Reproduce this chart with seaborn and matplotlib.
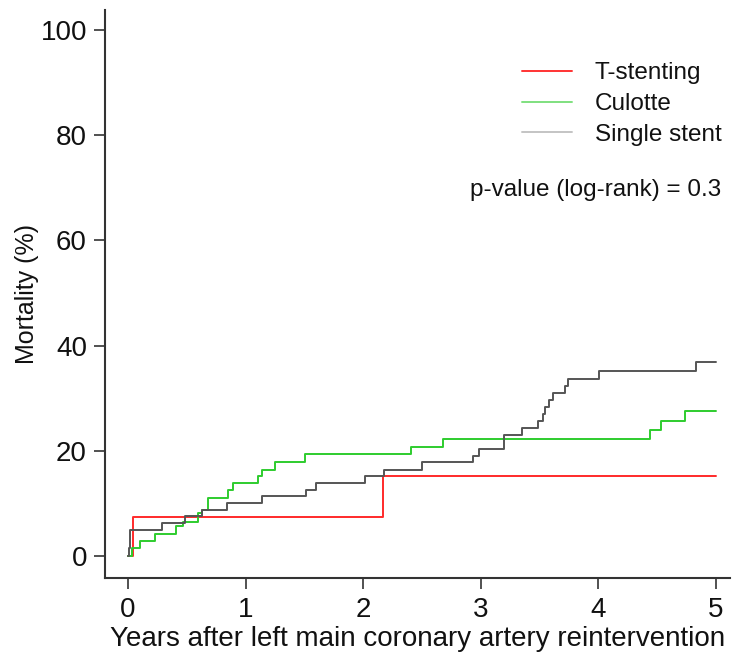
import numpy as np
import pandas as pd
import matplotlib
matplotlib.use("Agg")
import matplotlib.pyplot as plt
import seaborn as sns

# ---- data ----
groups = ["T-stenting", "Culotte", "Single stent"]

t_tsten = [0.0, 0.045, 2.17, 5.0]
m_tsten = [0.0, 7.4, 15.1, 15.1]

t_culotte = [0.0, 0.031, 0.102, 0.23, 0.408, 0.47, 0.598, 0.627, 0.683, 0.853,
             0.896, 1.108, 1.137, 1.25, 1.505, 2.41, 2.68, 4.44, 4.53, 4.74, 5.0]
m_culotte = [0.0, 1.5, 2.9, 4.2, 5.6, 6.5, 8.2, 8.8, 11.0, 12.6,
             13.8, 15.1, 16.4, 17.8, 19.4, 20.8, 22.3, 24.0, 25.6, 27.5, 27.5]

t_single = [0.0, 0.005, 0.015, 0.286, 0.485, 0.627, 0.84, 1.137, 1.514, 1.60,
            2.015, 2.177, 2.497, 2.93, 2.985, 3.197, 3.35, 3.49, 3.53, 3.55,
            3.58, 3.617, 3.72, 3.745, 4.01, 4.83, 5.0]
m_single = [0.0, 1.5, 4.95, 6.3, 7.5, 8.7, 10.0, 11.4, 12.6, 13.9,
            15.1, 16.25, 17.8, 19.0, 20.3, 22.9, 24.3, 25.6, 26.9, 28.3,
            29.7, 31.0, 32.4, 33.65, 35.2, 36.8, 36.8]

x_ticks = [0, 1, 2, 3, 4, 5]
y_ticks = [0, 20, 40, 60, 80, 100]
x_label = "Years after left main coronary artery reintervention"
y_label = "Mortality (%)"
p_text = "p-value (log-rank) = 0.3"

line_colors = {"T-stenting": "#ff2a2a", "Culotte": "#2ecc2e", "Single stent": "#555555"}
legend_colors = {"T-stenting": "#ff3333", "Culotte": "#7fe07f", "Single stent": "#c4c4c4"}

df = pd.concat([
    pd.DataFrame({"t": t_tsten, "m": m_tsten, "group": groups[0]}),
    pd.DataFrame({"t": t_culotte, "m": m_culotte, "group": groups[1]}),
    pd.DataFrame({"t": t_single, "m": m_single, "group": groups[2]}),
], ignore_index=True)

sns.set_style("ticks")
plt.rcParams["font.family"] = ["Liberation Sans", "DejaVu Sans"]

fig = plt.figure(figsize=(7.32, 6.6), dpi=100)
ax = fig.add_axes([105 / 732, 82 / 660, 625 / 732, 568 / 660])

sns.lineplot(data=df, x="t", y="m", hue="group", hue_order=groups,
             palette=line_colors, estimator=None, drawstyle="steps-post",
             linewidth=1.4, ax=ax)

ax.set_xlim(-0.196, 5.12)
ax.set_ylim(-4.2, 103.8)
ax.set_xticks(x_ticks)
ax.set_yticks(y_ticks)
ax.tick_params(axis="both", direction="out", length=8, width=1.2,
               color="#333333", labelsize=20, pad=5, labelcolor="#111111")
ax.tick_params(axis="x", pad=6)
for side in ["top", "right"]:
    ax.spines[side].set_visible(False)
for side in ["left", "bottom"]:
    ax.spines[side].set_linewidth(1.5)
    ax.spines[side].set_color("#333333")

ax.set_xlabel(x_label, fontsize=20, color="#111111", labelpad=2)
ax.set_ylabel(y_label, fontsize=18, color="#111111", labelpad=1)

leg = ax.legend(loc="upper left", bbox_to_anchor=(0.667, 0.908), frameon=False,
                fontsize=17.5, handlelength=2.05, handletextpad=0.95,
                labelspacing=0.36, borderpad=0, borderaxespad=0)
for h, txt in zip(leg.get_lines(), leg.get_texts()):
    h.set_color(legend_colors[txt.get_text()])
    h.set_linewidth(1.4)
    txt.set_color("#111111")

ax.text(0.584, 0.683, p_text, transform=ax.transAxes, ha="left", va="center",
        fontsize=17.5, color="#111111")

fig.savefig("out.png", dpi=100)
